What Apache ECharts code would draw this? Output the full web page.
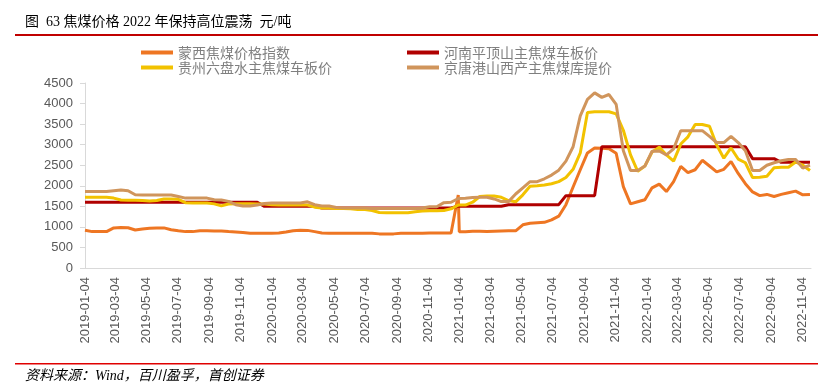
<!DOCTYPE html>
<html><head><meta charset="utf-8">
<script src="https://cdn.jsdelivr.net/npm/echarts@6/dist/echarts.min.js"></script>
<style>html,body{margin:0;padding:0;background:#fff}#c{width:818px;height:384px}</style>
</head><body><div id="c"></div>
<script>
const dates = ['2019-01-04','2019-01-18','2019-02-01','2019-02-15','2019-03-01','2019-03-15','2019-03-29','2019-04-12','2019-04-26','2019-05-10',
'2019-05-24','2019-06-07','2019-06-21','2019-07-05','2019-07-19','2019-08-02','2019-08-16','2019-08-30','2019-09-13','2019-09-27',
'2019-10-11','2019-10-25','2019-11-08','2019-11-22','2019-12-06','2019-12-20','2020-01-03','2020-01-17','2020-01-31','2020-02-14',
'2020-02-28','2020-03-13','2020-03-27','2020-04-10','2020-04-24','2020-05-08','2020-05-22','2020-06-05','2020-06-19','2020-07-03',
'2020-07-17','2020-07-31','2020-08-14','2020-08-28','2020-09-11','2020-09-25','2020-10-09','2020-10-23','2020-11-06','2020-11-20',
'2020-12-04','2020-12-18','2021-01-01','2021-01-03','2021-01-15','2021-01-29','2021-02-12','2021-02-26','2021-03-12','2021-03-26','2021-04-09',
'2021-04-23','2021-05-07','2021-05-21','2021-06-04','2021-06-18','2021-07-02','2021-07-16','2021-07-30','2021-08-13','2021-08-27',
'2021-09-10','2021-09-24','2021-10-08','2021-10-22','2021-11-05','2021-11-19','2021-12-03','2021-12-17','2021-12-31','2022-01-14',
'2022-01-28','2022-02-11','2022-02-25','2022-03-11','2022-03-25','2022-04-08','2022-04-22','2022-05-06','2022-05-20','2022-06-03',
'2022-06-17','2022-07-01','2022-07-15','2022-07-29','2022-08-12','2022-08-26','2022-09-09','2022-09-23','2022-10-07','2022-10-21',
'2022-11-04','2022-11-18'];

const mengxi = [920,885,885,885,975,985,980,925,950,965,
970,975,930,905,885,885,905,905,900,900,
885,875,865,845,845,845,845,850,875,905,
920,915,885,850,845,845,845,845,845,845,
845,830,825,830,845,845,845,845,850,850,
850,850,1775,880,880,895,895,885,895,900,905,
905,1050,1090,1100,1110,1170,1260,1540,1970,2390,
2800,2920,2910,2900,2790,1980,1560,1610,1660,1950,
2040,1860,2100,2470,2320,2390,2620,2480,2340,2400,
2590,2300,2050,1850,1760,1790,1740,1790,1830,1870,
1780,1790];

const henan = [1600,1600,1600,1600,1600,1600,1600,1600,1600,1600,
1600,1600,1600,1600,1600,1600,1600,1600,1600,1600,
1600,1600,1600,1600,1600,1500,1500,1500,1500,1500,
1500,1500,1500,1460,1460,1460,1460,1460,1460,1460,
1460,1460,1460,1460,1460,1460,1460,1460,1460,1460,
1460,1460,1500,1500,1500,1500,1500,1500,1500,1500,1540,
1540,1540,1540,1540,1540,1540,1540,1760,1760,1760,
1760,1760,2950,2950,2950,2950,2950,2950,2950,2950,
2950,2950,2950,2950,2950,2950,2950,2950,2950,2950,
2950,2950,2950,2660,2660,2660,2660,2570,2570,2570,
2570,2570];

const guizhou = [1720,1720,1720,1720,1700,1655,1650,1650,1640,1630,
1640,1680,1680,1670,1590,1580,1580,1580,1560,1510,
1555,1560,1560,1560,1555,1555,1540,1535,1535,1535,
1535,1530,1480,1460,1460,1450,1450,1440,1420,1420,
1400,1350,1345,1345,1345,1345,1370,1385,1390,1390,
1400,1440,1530,1530,1530,1600,1740,1750,1750,1720,1640,
1610,1780,1990,2000,2020,2050,2100,2200,2400,2800,
3780,3800,3800,3800,3750,3350,2750,2350,2480,2820,
2940,2750,2600,3015,3190,3490,3490,3450,2990,2670,
2920,2650,2560,2200,2205,2230,2440,2450,2450,2580,
2500,2370];

const jingtang = [1860,1860,1860,1860,1880,1900,1880,1780,1775,1775,
1775,1775,1775,1740,1700,1700,1700,1700,1660,1655,
1620,1540,1510,1510,1530,1570,1580,1580,1580,1580,
1580,1610,1540,1510,1510,1470,1460,1460,1460,1460,
1450,1450,1450,1450,1450,1450,1450,1460,1490,1490,
1590,1600,1690,1690,1695,1715,1720,1720,1680,1615,1615,
1800,1950,2100,2100,2170,2260,2380,2600,2950,3700,
4100,4260,4150,4220,3980,2850,2370,2370,2480,2840,
2845,2750,2900,3340,3340,3340,3340,3200,3050,3050,
3200,3050,2850,2370,2370,2500,2560,2610,2640,2640,
2430,2500];

const tickLabels = ['2019-01-04','2019-03-04','2019-05-04','2019-07-04','2019-09-04','2019-11-04',
'2020-01-04','2020-03-04','2020-05-04','2020-07-04','2020-09-04','2020-11-04',
'2021-01-04','2021-03-04','2021-05-04','2021-07-04','2021-09-04','2021-11-04',
'2022-01-04','2022-03-04','2022-05-04','2022-07-04','2022-09-04','2022-11-04'];
const axisEnd = '2022-11-20';

const names = ['蒙西焦煤价格指数','河南平顶山主焦煤车板价','贵州六盘水主焦煤车板价','京唐港山西产主焦煤库提价'];
const colors = ['#EE7623','#B00000','#F2C200','#D0955C'];
const values = [mengxi, henan, guizhou, jingtang];

// day offset from the first date (UTC parsing of ISO date strings)
const DAY = 86400000;
const t0 = Date.parse(dates[0]);
const dayOf = s => Math.round((Date.parse(s) - t0) / DAY);
const tickDays = tickLabels.map(dayOf);
const pair = arr => dates.map((d, i) => [dayOf(d), arr[i]]);

const chart = echarts.init(document.getElementById('c'), null, {renderer: 'canvas'});
const legendText = {color: '#7F7F7F', fontSize: 14, fontFamily: '"Noto Sans CJK SC", sans-serif', lineHeight: 15};
chart.setOption({
  animation: false,
  grid: {left: 85, right: 7, top: 83, bottom: 116},
  legend: [
    {data: [names[0], names[2]], left: 136, top: 40, orient: 'vertical', itemWidth: 32, itemHeight: 4, itemGap: 0, icon: 'rect', textStyle: legendText},
    {data: [names[1], names[3]], left: 402, top: 40, orient: 'vertical', itemWidth: 32, itemHeight: 4, itemGap: 0, icon: 'rect', textStyle: legendText}
  ],
  xAxis: {
    type: 'value',
    min: 0,
    max: dayOf(axisEnd),
    axisLine: {lineStyle: {color: '#D9D9D9', width: 1}},
    axisTick: {show: false},
    splitLine: {show: false},
    axisLabel: {
      customValues: tickDays,
      rotate: 90,
      margin: 9,
      color: '#595959',
      fontSize: 13,
      fontFamily: '"Liberation Sans", Arial, sans-serif',
      formatter: v => { const k = tickDays.indexOf(Math.round(v)); return k >= 0 ? tickLabels[k] : ''; }
    }
  },
  yAxis: {
    type: 'value',
    min: 0, max: 4500, interval: 500,
    axisLine: {show: true, lineStyle: {color: '#D9D9D9'}},
    axisTick: {show: true, length: 5, lineStyle: {color: '#D9D9D9'}},
    splitLine: {show: false},
    axisLabel: {color: '#595959', fontSize: 13, margin: 12, fontFamily: '"Liberation Sans", Arial, sans-serif', formatter: v => String(v)}
  },
  series: names.map((n, k) => ({
    name: n, type: 'line', data: pair(values[k]), showSymbol: false, symbol: 'none',
    lineStyle: {color: colors[k], width: 3}, itemStyle: {color: colors[k]}
  })),
  graphic: [
    {type: 'text', left: 25, top: 15, style: {text: '图  63 焦煤价格 2022 年保持高位震荡  元/吨', fill: '#000', fontSize: 14, fontFamily: '"Liberation Serif", "Noto Sans CJK SC", serif'}},
    {type: 'rect', shape: {x: 15, y: 34, width: 803, height: 2}, style: {fill: '#C00000'}},
    {type: 'rect', shape: {x: 15, y: 363, width: 803, height: 1.5}, style: {fill: '#E00000'}},
    {type: 'text', left: 25, top: 369, style: {text: '资料来源：Wind，百川盈孚，首创证券', fill: '#000', fontSize: 14, fontStyle: 'italic', fontFamily: '"Liberation Serif", "Noto Sans CJK SC", serif'}}
  ]
});
</script></body></html>
